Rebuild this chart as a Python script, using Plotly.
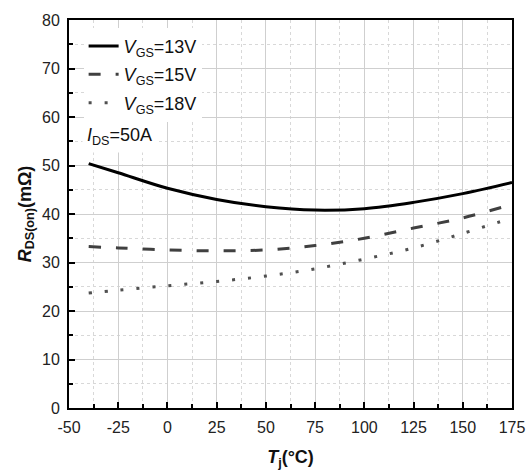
import plotly.graph_objects as go

# Data
temp = [-40, -25, 0, 25, 50, 75, 100, 125, 150, 175]
r_13v = [50.4, 48.5, 45.3, 43.0, 41.5, 40.8, 41.1, 42.4, 44.2, 46.5]
r_15v = [33.3, 33.0, 32.6, 32.4, 32.6, 33.5, 35.0, 37.1, 39.2, 42.0]
r_18v = [23.7, 24.3, 25.2, 26.1, 27.2, 28.7, 30.7, 33.0, 36.0, 39.2]

names = ["<i>V</i><sub>GS</sub>=13V", "<i>V</i><sub>GS</sub>=15V", "<i>V</i><sub>GS</sub>=18V"]
x_ticks = [-50, -25, 0, 25, 50, 75, 100, 125, 150, 175]
y_ticks = [0, 10, 20, 30, 40, 50, 60, 70, 80]

FONT = "Liberation Sans, Arial, sans-serif"

fig = go.Figure()
fig.add_trace(go.Scatter(x=temp, y=r_13v, mode="lines", name=names[0], legendgroup="a",
                         line=dict(color="#000000", width=3, shape="spline")))
fig.add_trace(go.Scatter(x=temp, y=r_15v, mode="lines", name=names[1], legendgroup="b",
                         line=dict(color="#404040", width=3, shape="spline", dash="12px,15px")))
fig.add_trace(go.Scatter(x=temp, y=r_18v, mode="lines", name=names[2], legendgroup="c",
                         line=dict(color="#505050", width=3, shape="spline", dash="3px,13px")))

axis_common = dict(
    showline=True, linecolor="#000000", linewidth=2, mirror=True,
    ticks="inside", ticklen=6, tickwidth=2, tickcolor="#000000",
    showgrid=True, gridcolor="#cfcfcf", gridwidth=1,
    zeroline=False, automargin=False,
    tickfont=dict(family=FONT, size=16, color="#222222"),
)

fig.update_xaxes(
    range=[-50, 175], tickvals=x_ticks, ticktext=[str(v) for v in x_ticks],
    minor=dict(dtick=12.5, tick0=-50, showgrid=True, gridcolor="#d8d8d8", griddash="dot",
               ticks="inside", ticklen=4, tickwidth=2, tickcolor="#000000"),
    title=dict(text="<b><i>T</i><sub>j</sub>(°C)</b>", font=dict(family=FONT, size=18, color="#111111"),
               standoff=18),
    ticklabelstandoff=4,
    **axis_common,
)
fig.update_yaxes(
    range=[0, 80], tickvals=y_ticks, ticktext=[str(v) for v in y_ticks],
    minor=dict(dtick=5, tick0=0, showgrid=True, gridcolor="#d8d8d8", griddash="dot",
               ticks="inside", ticklen=4, tickwidth=2, tickcolor="#000000"),
    title=dict(text="<b><i>R</i><sub>DS(on)</sub>(mΩ)</b>", font=dict(family=FONT, size=18, color="#111111"),
               standoff=6),
    ticklabelstandoff=4,
    **axis_common,
)

fig.add_annotation(
    x=0.03, y=0.70, xref="paper", yref="paper", xanchor="left", yanchor="middle",
    align="left",
    text="<i>I</i><sub>DS</sub>=50A", showarrow=False,
    bgcolor="#ffffff", borderpad=4,
    font=dict(family=FONT, size=18, color="#111111"),
)

fig.update_layout(
    width=530, height=470,
    margin=dict(l=69, r=18, t=20, b=62),
    plot_bgcolor="#ffffff", paper_bgcolor="#ffffff",
    showlegend=True,
    legend=dict(x=0.033, y=0.98, xanchor="left", yanchor="top",
                bgcolor="rgba(255,255,255,1)", borderwidth=0,
                font=dict(family=FONT, size=18, color="#111111"),
                tracegroupgap=2),
)

fig.write_html("out.html")
